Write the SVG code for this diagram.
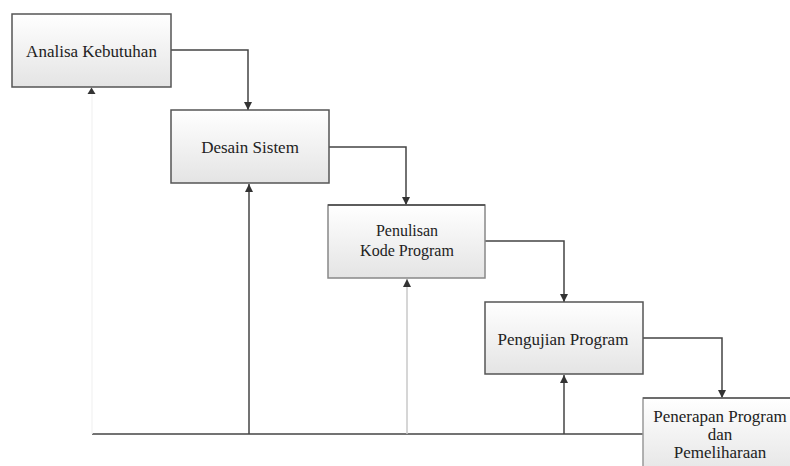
<svg xmlns="http://www.w3.org/2000/svg" width="790" height="466" viewBox="0 0 790 466">
<style>
.box{stroke:#555;stroke-width:1.5}
.lbl{font-family:'Liberation Serif','Times New Roman','DejaVu Serif',serif;font-size:17px;fill:#222;text-anchor:middle}
.c{fill:none;stroke:#444;stroke-width:1.5}
.cl{fill:none;stroke:#c8c8c8;stroke-width:1.5}
.cf{fill:none;stroke:#f4f4f4;stroke-width:1.5}
</style>
<defs>
<linearGradient id="g" x1="0" y1="0" x2="0" y2="1">
<stop offset="0" stop-color="#ffffff"/>
<stop offset="1" stop-color="#e4e4e4"/>
</linearGradient>
<marker id="ah" markerUnits="userSpaceOnUse" markerWidth="8" markerHeight="8" refX="8" refY="4" orient="auto">
<path d="M0,0 L8,4 L0,8 z" fill="#333"/>
</marker>
</defs>
<rect width="790" height="466" fill="#fff"/>
<g id="connectors">
<path class="c" d="M171,50 H248 V110" marker-end="url(#ah)"/>
<path class="c" d="M329,147 H406 V205" marker-end="url(#ah)"/>
<path class="c" d="M485,241 H564 V302" marker-end="url(#ah)"/>
<path class="c" d="M643,338 H722 V398" marker-end="url(#ah)"/>
<path class="c" d="M92,434 H643"/>
<path class="c" d="M249,434 V184" marker-end="url(#ah)"/>
<path class="cl" d="M407,434 V279" marker-end="url(#ah)"/>
<path class="c" d="M564,434 V375" marker-end="url(#ah)"/>
<path class="cf" d="M92,434 V88"/>
<path d="M87.5,94 L91.5,87.5 L95.5,94 z" fill="#333"/>
</g>
<g id="node1">
<rect class="box" x="12" y="14" width="159" height="73" fill="url(#g)"/>
<text class="lbl" x="91.5" y="57" font-family="Liberation Serif, serif">Analisa Kebutuhan</text>
</g>
<g id="node2">
<rect class="box" x="171" y="110" width="158" height="73" fill="url(#g)"/>
<text class="lbl" x="250" y="153" font-family="Liberation Serif, serif">Desain Sistem</text>
</g>
<g id="node3">
<rect class="box" x="328" y="205" width="157" height="73" fill="url(#g)" style="stroke:#888"/>
<line x1="328" y1="205" x2="485" y2="205" stroke="#444" stroke-width="1.5"/>
<text class="lbl" x="407" y="236" style="font-size:16px" font-family="Liberation Serif, serif">Penulisan</text>
<text class="lbl" x="407" y="256" style="font-size:16px" font-family="Liberation Serif, serif">Kode Program</text>
</g>
<g id="node4">
<rect class="box" x="485" y="302" width="158" height="72" fill="url(#g)"/>
<text class="lbl" x="563" y="345" font-family="Liberation Serif, serif">Pengujian Program</text>
</g>
<g id="node5">
<rect class="box" x="643" y="398" width="160" height="80" fill="url(#g)" style="stroke:#999"/>
<line x1="643" y1="398" x2="790" y2="398" stroke="#555" stroke-width="1.5"/>
<text class="lbl" x="720" y="422" font-family="Liberation Serif, serif">Penerapan Program</text>
<text class="lbl" x="720" y="440" font-family="Liberation Serif, serif">dan</text>
<text class="lbl" x="720" y="458" font-family="Liberation Serif, serif">Pemeliharaan</text>
</g>
</svg>
